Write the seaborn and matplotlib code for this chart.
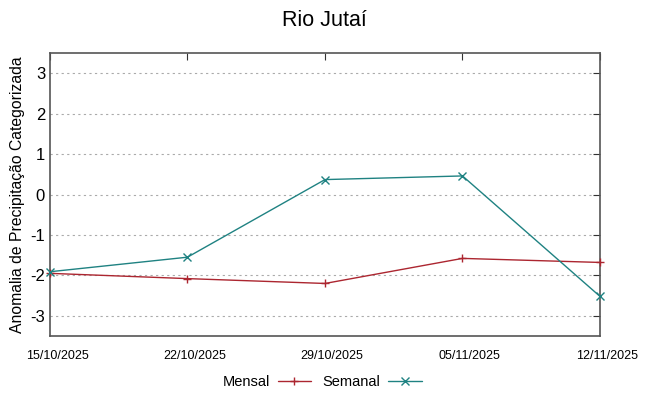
import pandas as pd
import seaborn as sns
import matplotlib.pyplot as plt
import matplotlib.dates as mdates
import matplotlib.transforms as mtransforms

# Data
datas = ["2025-10-15", "2025-10-22", "2025-10-29", "2025-11-05", "2025-11-12"]
mensal = [-1.95, -2.08, -2.20, -1.58, -1.68]
semanal = [-1.91, -1.55, 0.37, 0.46, -2.52]

df = pd.DataFrame({
    "data": pd.to_datetime(datas * 2),
    "valor": mensal + semanal,
    "serie": ["Mensal"] * len(datas) + ["Semanal"] * len(datas),
})

sns.set_style("white")
plt.rcParams['font.family'] = ['Liberation Sans', 'DejaVu Sans']
plt.rcParams['axes.unicode_minus'] = False
plt.rcParams['text.color'] = 'black'
plt.rcParams['axes.labelcolor'] = 'black'

fig = plt.figure(figsize=(6.49, 3.96), dpi=100)
ax = fig.add_axes([0.077, 0.1515, 0.8475, 0.7145])

cores = {"Mensal": "#ac2630", "Semanal": "#1f8282"}
marcas = {"Mensal": "+", "Semanal": "x"}
sns.lineplot(data=df, x="data", y="valor", hue="serie", style="serie",
             palette=cores, markers=marcas, dashes=False, markersize=5.5,
             linewidth=1, ax=ax, clip_on=False, zorder=3, legend=False)

# seaborn paints marker edges white; give them the line colour
for ln in ax.lines:
    ln.set_markeredgecolor(ln.get_color())
    ln.set_markeredgewidth(1)

ax.set_xlim(df["data"].min(), df["data"].max())
ax.set_ylim(-3.5, 3.5)
ax.set_yticks([-3, -2, -1, 0, 1, 2, 3])
ax.set_xticks(pd.to_datetime(datas))
ax.xaxis.set_major_formatter(mdates.DateFormatter("%d/%m/%Y"))
ax.tick_params(axis="x", labelsize=9, direction="in", length=5, top=True, pad=10, colors="#333333")
ax.tick_params(axis="y", labelsize=12, direction="in", length=5, right=True, colors="#333333")
desloc = mtransforms.ScaledTranslation(7 / 100, 0, fig.dpi_scale_trans)
for lab in ax.get_xticklabels():
    lab.set_transform(lab.get_transform() + desloc)
for lab in ax.get_xticklabels() + ax.get_yticklabels():
    lab.set_color("black")

ax.grid(axis="y", linestyle=(0, (2, 3)), color="#aaaaaa", linewidth=0.8)
for s in ax.spines.values():
    s.set_color("#555555")
    s.set_linewidth(1.2)

ax.set_xlabel("")
ax.set_ylabel("Anomalia de Precipitação Categorizada", fontsize=11.3)
ax.yaxis.set_label_coords(-0.045, 0.5)
fig.suptitle("Rio Jutaí", fontsize=15.5, y=0.975)

handles = [plt.Line2D([], [], color=cores[k], marker=marcas[k], markersize=5.5,
                      linewidth=1, markeredgewidth=1) for k in ["Mensal", "Semanal"]]
ax.legend(handles, ["Mensal", "Semanal"], loc="center", bbox_to_anchor=(0.495, -0.163),
          ncol=2, frameon=False, markerfirst=False, fontsize=10.5, handlelength=2.3,
          columnspacing=0.8, handletextpad=0.5, borderpad=0)

plt.savefig("out.png")
